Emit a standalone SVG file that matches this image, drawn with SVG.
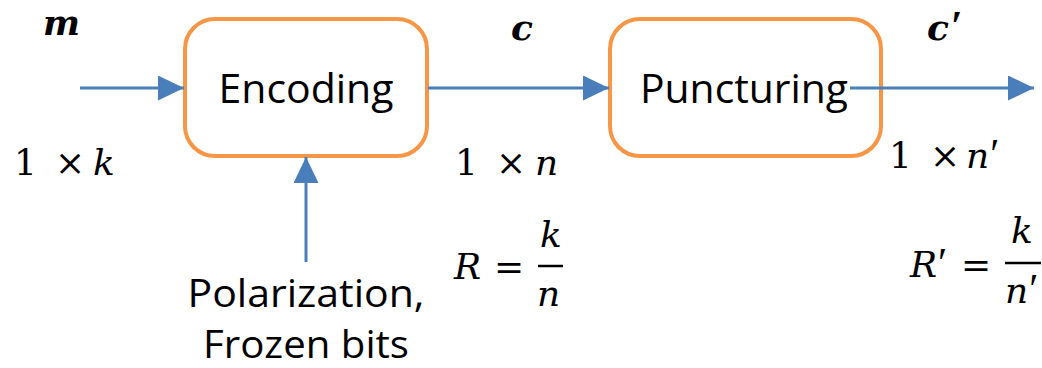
<svg xmlns="http://www.w3.org/2000/svg" width="1042" height="368" viewBox="0 0 1042 368">
<style>
.box{fill:#fff;stroke:#F79646;stroke-width:4}
.lbl{font-family:"Open Sans","Liberation Sans",sans-serif;font-size:41px;fill:#000}
.lb2{font-size:39px}
.m{font-family:"DejaVu Serif","Liberation Serif",serif;font-size:36px;fill:#000}
.mi{font-style:italic}
.mb{font-style:italic;font-weight:bold}
.pr{font-family:"Liberation Serif",serif;font-style:normal;font-size:42px}
.conn{stroke:#4A7EBB;stroke-width:3;fill:none;marker-end:url(#ah)}
</style>
<defs>
<marker id="ah" markerUnits="userSpaceOnUse" markerWidth="26" markerHeight="25" refX="26" refY="12.5" orient="auto">
<path d="M0,0 L26,12.5 L0,25 Z" fill="#4A7EBB"/>
</marker>
</defs>
<g id="encoding">
<rect class="box" x="185" y="19" width="242" height="137" rx="30"/>
<text class="lbl" x="306" y="103" text-anchor="middle" textLength="175" lengthAdjust="spacingAndGlyphs">Encoding</text>
</g>
<g id="puncturing">
<rect class="box" x="610" y="19" width="271" height="137" rx="30"/>
<text class="lbl" x="744" y="103" text-anchor="middle" textLength="208" lengthAdjust="spacingAndGlyphs">Puncturing</text>
</g>
<g id="input-label">
<text class="m mb" x="43" y="35" textLength="37" lengthAdjust="spacingAndGlyphs">m</text>
<text class="m" x="14" y="175">1</text>
<text class="m" x="55" y="175">×</text>
<text class="m mi" x="93" y="175">k</text>
</g>
<g id="codeword-label">
<text class="m mb" x="511" y="40">c</text>
<text class="m" x="455" y="175">1</text>
<text class="m" x="496" y="175">×</text>
<text class="m mi" x="535" y="175">n</text>
<text class="m mi" x="454" y="279">R</text>
<text class="m" x="494" y="279">=</text>
<text class="m mi" x="540" y="247">k</text>
<line x1="538" y1="266" x2="563" y2="266" stroke="#000" stroke-width="2.5"/>
<text class="m mi" x="537" y="306">n</text>
</g>
<g id="punctured-label">
<text class="m mb" x="927" y="40">c<tspan class="pr" font-weight="bold" dx="2">′</tspan></text>
<text class="m" x="889" y="168">1</text>
<text class="m" x="930" y="168">×</text>
<text class="m mi" x="966" y="168">n<tspan class="pr" dx="1">′</tspan></text>
<text class="m mi" x="910" y="277">R<tspan class="pr" dx="1">′</tspan></text>
<text class="m" x="961" y="277">=</text>
<text class="m mi" x="1011" y="243">k</text>
<line x1="1005" y1="263" x2="1041" y2="263" stroke="#000" stroke-width="2.5"/>
<text class="m mi" x="1005" y="303">n<tspan class="pr" dx="1">′</tspan></text>
</g>
<g id="polarization">
<text class="lbl lb2" x="306" y="307" text-anchor="middle" textLength="237" lengthAdjust="spacingAndGlyphs">Polarization,</text>
<text class="lbl lb2" x="306" y="358" text-anchor="middle" textLength="206" lengthAdjust="spacingAndGlyphs">Frozen bits</text>
</g>
<g id="connectors">
<line class="conn" x1="80" y1="88" x2="184" y2="88"/>
<line class="conn" x1="428" y1="88" x2="609" y2="88"/>
<line class="conn" x1="850" y1="88" x2="1034" y2="88"/>
<line class="conn" x1="306" y1="262" x2="306" y2="157"/>
</g>
</svg>
